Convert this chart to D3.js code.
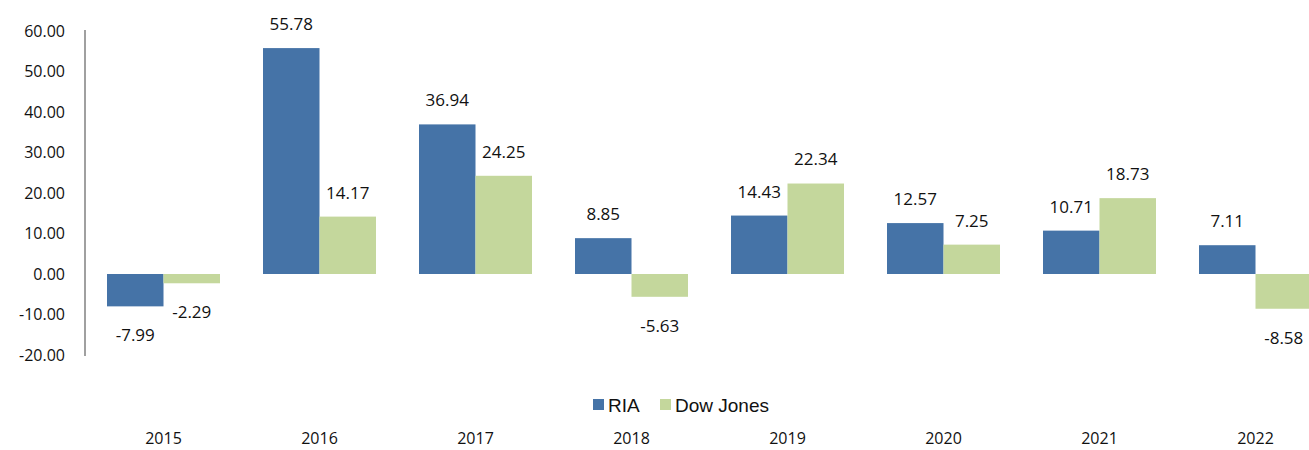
<!DOCTYPE html>
<html>
<head>
<meta charset="utf-8">
<script src="https://cdn.jsdelivr.net/npm/d3@7"></script>
<style>
  body { margin: 0; background: #fff; overflow: hidden; }
  text { font-family: "Open Sans", "DejaVu Sans", sans-serif; fill: #111; }
</style>
</head>
<body>
<div id="container"></div>
<script>
// data
const years = ["2015", "2016", "2017", "2018", "2019", "2020", "2021", "2022"];
const ria = [-7.99, 55.78, 36.94, 8.85, 14.43, 12.57, 10.71, 7.11];
const dowJones = [-2.29, 14.17, 24.25, -5.63, 22.34, 7.25, 18.73, -8.58];
const seriesNames = ["RIA", "Dow Jones"];
const yTicks = [-20, -10, 0, 10, 20, 30, 40, 50, 60];

const width = 1309;
const height = 450;
const colors = ["#4573A7", "#C4D79C"];
const fmt = v => v.toFixed(2); // plain hyphen for negatives, like the original

const svg = d3.select("#container")
  .append("svg")
  .attr("width", width)
  .attr("height", height);

// scales
const xScale = d3.scaleBand()
  .domain(years)
  .range([85.5, 1333.5])
  .paddingInner(0)
  .paddingOuter(0);

const inner = 21.5; // gap either side of a bar pair
const barW = (xScale.bandwidth() - inner * 2) / 2;

const yScale = d3.scaleLinear()
  .domain([-20, 60])
  .range([355, 31]);

// y axis line
svg.append("line")
  .attr("x1", 85).attr("x2", 85)
  .attr("y1", yScale(60) - 1).attr("y2", yScale(-20) + 1)
  .attr("stroke", "#a0a0a0")
  .attr("stroke-width", 2);

// y tick labels
svg.selectAll("text.ytick")
  .data(yTicks)
  .join("text")
  .attr("class", "ytick")
  .attr("x", 65)
  .attr("y", d => yScale(d))
  .attr("dy", "0.35em")
  .attr("text-anchor", "end")
  .style("font-size", "16px")
  .text(d => fmt(d));

const rows = years.map((y, i) => ({ year: y, vals: [ria[i], dowJones[i]] }));

// bars + value labels
rows.forEach(r => {
  r.vals.forEach((v, s) => {
    const x = xScale(r.year) + inner + s * barW;
    svg.append("rect")
      .attr("x", x)
      .attr("width", barW)
      .attr("y", yScale(Math.max(v, 0)))
      .attr("height", Math.abs(yScale(v) - yScale(0)))
      .attr("fill", colors[s]);

    svg.append("text")
      .attr("x", x + barW / 2)
      .attr("y", v >= 0 ? yScale(v) - 24 : yScale(v) + 29)
      .attr("dy", "0.35em")
      .attr("text-anchor", "middle")
      .style("font-size", "17px")
      .text(fmt(v));
  });
});

// year labels along the bottom
svg.selectAll("text.year")
  .data(years)
  .join("text")
  .attr("class", "year")
  .attr("x", d => xScale(d) + xScale.bandwidth() / 2)
  .attr("y", 438)
  .attr("dy", "0.35em")
  .attr("text-anchor", "middle")
  .style("font-size", "16px")
  .text(d => d);

// legend
const legendX = [593, 660];
seriesNames.forEach((n, i) => {
  svg.append("rect")
    .attr("x", legendX[i]).attr("y", 399)
    .attr("width", 11).attr("height", 11)
    .attr("fill", colors[i]);
  svg.append("text")
    .attr("x", legendX[i] + 15)
    .attr("y", 405)
    .attr("dy", "0.35em")
    .style("font-size", "19px")
    .style("font-family", "'Liberation Sans', Arial, sans-serif")
    .text(n);
});
</script>
</body>
</html>
